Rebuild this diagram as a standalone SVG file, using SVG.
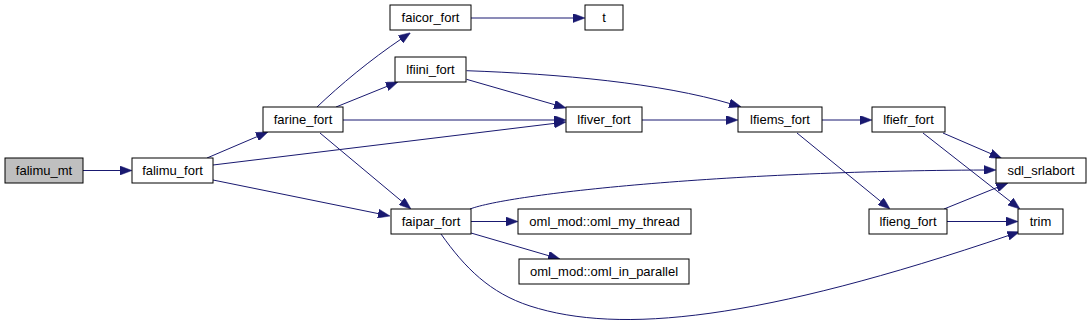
<svg xmlns="http://www.w3.org/2000/svg" width="1091" height="327" viewBox="0 0 1091 327">
<style>
.n rect{fill:#ffffff;stroke:#000000;stroke-width:1}
.n text{font-family:"Liberation Sans",Arial,sans-serif;font-size:13px;text-anchor:middle;fill:#000000}
.e path{fill:none;stroke:#191970;stroke-width:1;marker-end:url(#ah)}
</style>
<defs>
<marker id="ah" viewBox="0 0 12 9" refX="2" refY="4.5" markerWidth="12" markerHeight="9" markerUnits="userSpaceOnUse" orient="auto">
<polygon points="0,0 12,4.5 0,9" fill="#191970" stroke="#191970" stroke-width="0.5"/>
</marker>
</defs>
<rect x="0" y="0" width="1091" height="327" fill="#ffffff"/>
<g id="connectors" class="e">
<path d="M83,170.5 L122,170.5"/>
<path d="M207,158 L258.8,135.9"/>
<path d="M213,165 L556.1,123.2"/>
<path d="M213,180 L380.2,214"/>
<path d="M317,107 C340,85 370,60 402.2,38.3"/>
<path d="M336,107 L388.7,85.7"/>
<path d="M343,120 L556,120"/>
<path d="M320,133 L403.3,202.6"/>
<path d="M471,18 L575,18"/>
<path d="M466.5,79.3 L556.4,105.2"/>
<path d="M466.5,70.7 C560,74 660,83 731.5,104"/>
<path d="M642,120 L728,120"/>
<path d="M822,120 L862,120"/>
<path d="M797,133 L882.3,202.7"/>
<path d="M943,133 L992.5,154.4"/>
<path d="M923,133 L1012.1,202.8"/>
<path d="M944,209 L998.8,186.8"/>
<path d="M947,221.5 L1008,221.5"/>
<path d="M471,221.5 L508,221.5"/>
<path d="M471,233 L550.4,256.2"/>
<path d="M470,209 C510,194 720,171 986,170"/>
<path d="M441,234 C465,268 490,293 530,306 C620,335 760,320 1010,235"/>
</g>
<g id="falimu_mt" class="n"><rect x="5" y="158" width="78" height="25" style="fill:#bfbfbf"/><text x="44" y="175">falimu_mt</text></g>
<g id="falimu_fort" class="n"><rect x="132" y="158" width="81" height="25"/><text x="172.5" y="175">falimu_fort</text></g>
<g id="farine_fort" class="n"><rect x="263" y="107" width="80" height="25"/><text x="303" y="124">farine_fort</text></g>
<g id="faicor_fort" class="n"><rect x="390" y="5" width="81" height="25"/><text x="430.5" y="22">faicor_fort</text></g>
<g id="t" class="n"><rect x="585" y="5" width="38" height="25"/><text x="604" y="22">t</text></g>
<g id="lfiini_fort" class="n"><rect x="395" y="57" width="71" height="25"/><text x="430.5" y="74">lfiini_fort</text></g>
<g id="lfiver_fort" class="n"><rect x="566" y="107" width="76" height="25"/><text x="604" y="124">lfiver_fort</text></g>
<g id="faipar_fort" class="n"><rect x="391" y="209" width="80" height="25"/><text x="431" y="226">faipar_fort</text></g>
<g id="oml_my_thread" class="n"><rect x="518" y="209" width="173" height="25"/><text x="604.5" y="226">oml_mod::oml_my_thread</text></g>
<g id="oml_in_parallel" class="n"><rect x="519" y="259" width="170" height="25"/><text x="604" y="276">oml_mod::oml_in_parallel</text></g>
<g id="lfiems_fort" class="n"><rect x="738" y="107" width="84" height="25"/><text x="780" y="124">lfiems_fort</text></g>
<g id="lfiefr_fort" class="n"><rect x="872" y="107" width="73" height="25"/><text x="908.5" y="124">lfiefr_fort</text></g>
<g id="sdl_srlabort" class="n"><rect x="996" y="158" width="90" height="25"/><text x="1041" y="175">sdl_srlabort</text></g>
<g id="lfieng_fort" class="n"><rect x="869" y="209" width="78" height="25"/><text x="908" y="226">lfieng_fort</text></g>
<g id="trim" class="n"><rect x="1018" y="209" width="45" height="25"/><text x="1040.5" y="226">trim</text></g>
</svg>
